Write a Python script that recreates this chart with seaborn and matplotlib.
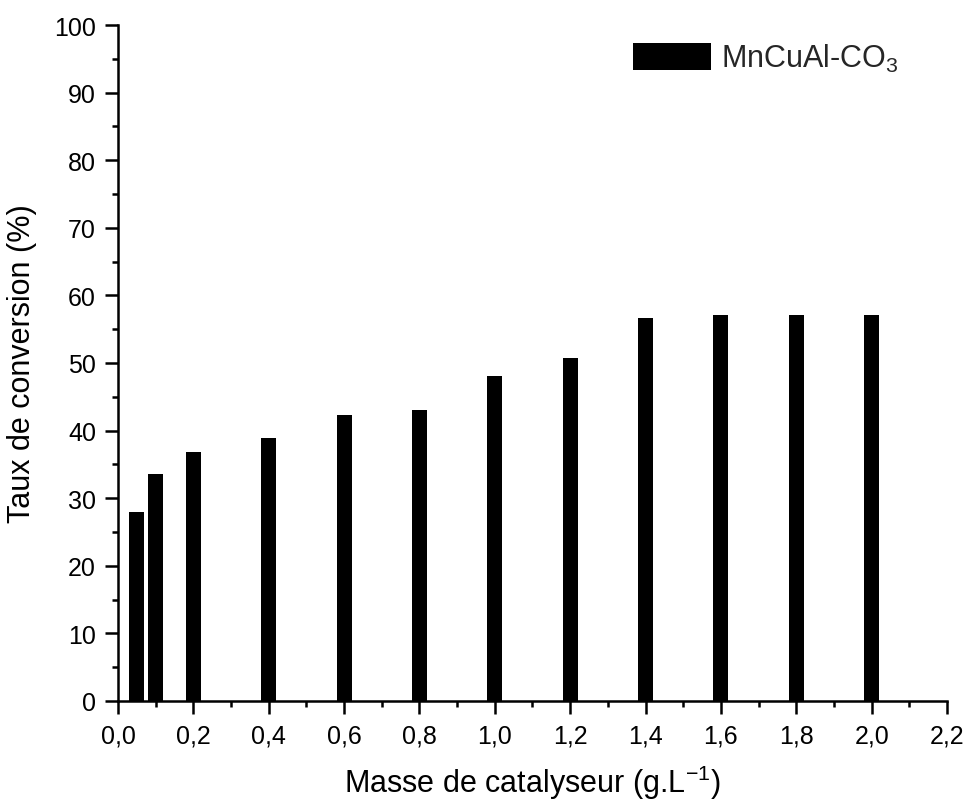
import matplotlib
matplotlib.use("Agg")
import matplotlib.pyplot as plt
from matplotlib.ticker import MultipleLocator, FuncFormatter
import seaborn as sns
import pandas as pd

# Catalyst loading (g/L) and conversion rate (%)
mass = [0.05, 0.1, 0.2, 0.4, 0.6, 0.8, 1.0, 1.2, 1.4, 1.6, 1.8, 2.0]
conversion = [27.9, 33.6, 36.8, 38.9, 42.3, 43.0, 48.1, 50.8, 56.6, 57.1, 57.1, 57.1]
series_label = "MnCuAl-CO$_3$"

df = pd.DataFrame({"mass": mass, "conversion": conversion})

sns.set_theme(style="ticks")
plt.rcParams["font.family"] = ["Liberation Sans", "DejaVu Sans"]
plt.rcParams["mathtext.fontset"] = "custom"
plt.rcParams["mathtext.rm"] = "Liberation Sans"
plt.rcParams["mathtext.it"] = "Liberation Sans:italic"
plt.rcParams["mathtext.bf"] = "Liberation Sans:bold"
plt.rcParams["axes.unicode_minus"] = False

fig = plt.figure(figsize=(9.68, 8.03), dpi=100)
ax = fig.add_axes([0.1219, 0.1258, 0.8564, 0.8418])

sns.barplot(data=df, x="mass", y="conversion", native_scale=True, width=0.8,
            color="black", saturation=1, edgecolor="black", linewidth=0,
            label=series_label, ax=ax)

ax.set_xlim(0, 2.2)
ax.set_ylim(0, 100)
ax.xaxis.set_major_locator(MultipleLocator(0.2))
ax.xaxis.set_minor_locator(MultipleLocator(0.1))
ax.yaxis.set_major_locator(MultipleLocator(10))
ax.yaxis.set_minor_locator(MultipleLocator(5))
ax.xaxis.set_major_formatter(FuncFormatter(lambda v, p: f"{v:.1f}".replace(".", ",")))
ax.yaxis.set_major_formatter(FuncFormatter(lambda v, p: f"{v:.0f}"))

for side in ("top", "right"):
    ax.spines[side].set_visible(False)
for side in ("left", "bottom"):
    ax.spines[side].set_linewidth(1.8)
    ax.spines[side].set_color("black")

ax.tick_params(which="major", direction="out", length=9.4, width=1.8,
               labelsize=18, color="black", labelcolor="black")
ax.tick_params(axis="x", which="major", pad=7)
ax.tick_params(axis="y", which="major", pad=6.5)
ax.tick_params(which="minor", direction="out", length=4.3, width=1.8, color="black")

ax.set_xlabel("Masse de catalyseur (g.L$^{-1}$)", fontsize=22, labelpad=11, color="black")
ax.set_ylabel("Taux de conversion (%)", fontsize=22, labelpad=12, color="black")

ax.legend(loc="upper left", bbox_to_anchor=(0.621, 0.975), frameon=False,
          fontsize=22, handlelength=2.55, handleheight=0.95, handletextpad=0.35,
          borderpad=0, borderaxespad=0)

fig.savefig("out.png", dpi=100)
